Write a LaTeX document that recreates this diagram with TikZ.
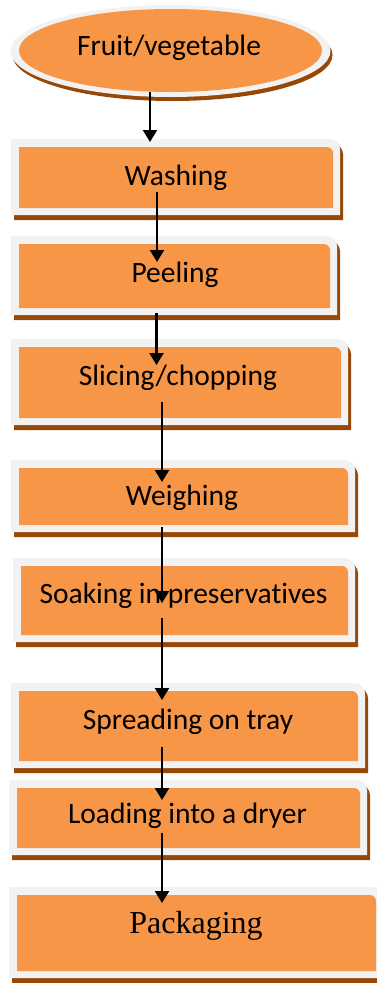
\documentclass[tikz,border=0pt]{standalone}
\usepackage{fontspec}
\setmainfont[Ligatures=NoCommon]{Carlito}
\newfontfamily\timesfont{Liberation Serif}
\usetikzlibrary{arrows.meta}

\definecolor{fruitorange}{HTML}{F79646}
\definecolor{shadowbrown}{HTML}{984806}
\definecolor{boxwhite}{HTML}{F2F2F2}

% box with the top right corner rounded: colour, x1, y1, x2, y2, radius
\newcommand{\topround}[6]{%
  \fill[#1] (#2,#5) -- (#2,#3) -- ({#4-#6},#3) arc[start angle=-90,end angle=0,radius=#6] -- (#4,#5) -- cycle;
}
% one process step: shadow, white frame, orange face
\newcommand{\procstep}[4]{%
  \topround{shadowbrown}{#1+3}{#2+5}{#3+3}{#4+5}{10}
  \topround{boxwhite}{#1}{#2}{#3}{#4}{10}
  \topround{fruitorange}{#1+8}{#2+8}{#3-7}{#4-7}{6}
}

\tikzset{
  steptext/.style={anchor=base,inner sep=0pt,font=\fontsize{29.5}{35}\selectfont},
  flow/.style={line width=2.2pt,-{Triangle[width=14pt,length=12pt]}}
}

\begin{document}
\begin{tikzpicture}[x=1pt,y=-1pt]
    \useasboundingbox (0,0) rectangle (376,983);
    %% start: the ellipse
    \fill[shadowbrown] (172.5,55) ellipse[x radius=160,y radius=46];
    \fill[boxwhite] (170.5,51) ellipse[x radius=160,y radius=46];
    \fill[fruitorange] (170.5,50.5) ellipse[x radius=151.5,y radius=41.5];
    %% the steps
    \foreach \xa/\ya/\xb/\yb in {11/139/340/215, 11/236/337/315, 11/339/348/425,
        11/460/355/532, 13/558/355/642, 11/683/365/768, 9/780/367/855, 9/887/383/978}
    {
    \procstep{\xa}{\ya}{\xb}{\yb}
    }
    \node[steptext] (fruit) at (169,55) {Fruit/vegetable};
    \node[steptext] (wash) at (176,185) {Washing};
    \node[steptext] (peel) at (175,282) {Peeling};
    \node[steptext] (slice) at (178,385) {Slicing/chopping};
    \node[steptext] (weigh) at (182,505) {Weighing};
    \node[steptext] (soak) at (183.5,603) {Soaking in preservatives};
    \node[steptext] (spread) at (188,729) {Spreading on tray};
    \node[steptext] (load) at (187.5,823) {Loading into a dryer};
    \node[steptext,font=\timesfont\fontsize{32}{38}\selectfont] (pack) at (196,933) {Packaging};
    %% arrow ends
    \coordinate (f0) at (150,92);   \coordinate (f1) at (150,142);
    \coordinate (w0) at (157,192);  \coordinate (w1) at (157,262);
    \coordinate (p0) at (156.5,313);\coordinate (p1) at (156.5,365);
    \coordinate (s0) at (162,402);  \coordinate (s1) at (162,482);
    \coordinate (g0) at (162,527);  \coordinate (g1) at (162,603);
    \coordinate (k0) at (162,618);  \coordinate (k1) at (162,700);
    \coordinate (r0) at (162,747);  \coordinate (r1) at (162,800);
    \coordinate (l0) at (162,833);  \coordinate (l1) at (162,903);
    \foreach \A in {f,w,p,s,g,k,r,l}
    {
    \draw[flow] (\A0) -- (\A1);
    }
\end{tikzpicture}
\end{document}
